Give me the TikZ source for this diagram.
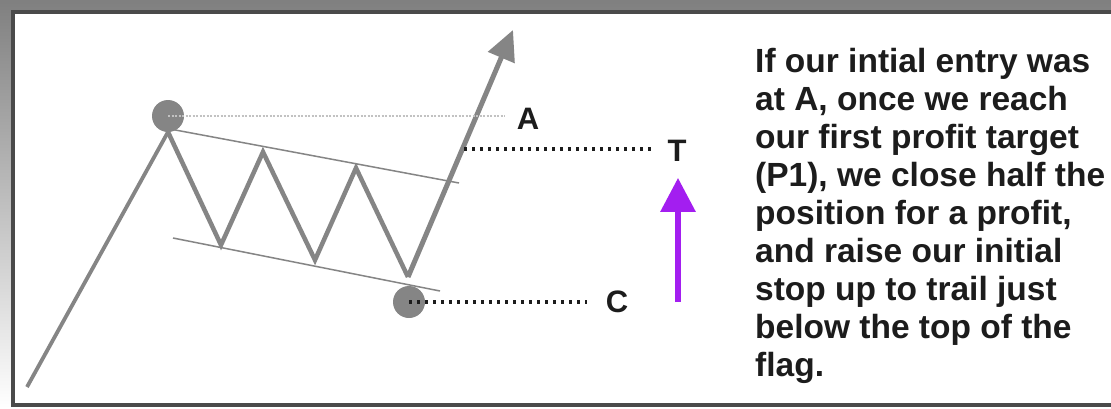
\documentclass[tikz,border=0pt]{standalone}
\usepackage{fontspec}
\setmainfont{Liberation Sans}
\usepackage{tikz}
\usetikzlibrary{positioning,arrows.meta,calc}
\definecolor{framegray}{HTML}{4A4A4A}
\definecolor{shade}{HTML}{F8F8F8}
\definecolor{pricegray}{HTML}{858585}
\definecolor{dotgray}{HTML}{C2C2C2}
\definecolor{inkdark}{HTML}{1C1C1C}
\definecolor{raisepurple}{HTML}{A31EF0}
\tikzset{
    pricepath/.style={
        draw=pricegray, line width=4.5pt, line join=miter
    },
    flagline/.style={
        draw=pricegray, line width=1.5pt
    },
    pivot/.style={
        circle, fill=pricegray, minimum size=32pt, inner sep=0pt
    },
    levellabel/.style={
        font=\fontsize{31}{31}\selectfont\bfseries, text=inkdark, inner sep=0pt
    },
    leveldots/.style={
        draw=inkdark, line width=3.2pt, dash pattern=on 3.2pt off 4.8pt
    },
    entrydots/.style={
        draw=dotgray, line width=2pt, dash pattern=on 2pt off 1.5pt
    },
    notetext/.style={
        font=\fontsize{33.5}{38}\selectfont\bfseries, text=inkdark,
        align=left, inner sep=0pt, anchor=north west
    },
    breakout/.style={-{Triangle[length=30pt,width=28pt]}, draw=pricegray, line width=5pt},
    raisearrow/.style={-{Triangle[length=34pt,width=34pt]}, draw=raisepurple, line width=6pt},
}

\begin{document}
\begin{tikzpicture}[x=1pt, y=-1pt]
    \useasboundingbox (0,0) rectangle (1111,408);
    \fill[shade] (0,0) rectangle (1111,408);
    \draw[framegray, line width=3.5pt, fill=white] (13,12) rectangle (1125,405);

    % price swings
    \coordinate (start) at (27,387);
    \coordinate (p1) at (168,132);
    \coordinate (t1) at (221,245);
    \coordinate (p2) at (263,152);
    \coordinate (t2) at (315,260);
    \coordinate (p3) at (356,168);
    \coordinate (t3) at (408,277);
    \coordinate (tip) at (513,30);
    \coordinate (tlevel) at (464,149);

    % flag borders
    \coordinate (upperL) at (170,129);
    \coordinate (upperR) at (459,183);
    \coordinate (lowerL) at (173,238);
    \coordinate (lowerR) at (440,291);

    \node[pivot] (entry) at (168,116) {};
    \node[pivot] (stop) at (409,302) {};

    \draw[flagline] (upperL) -- (upperR);
    \draw[flagline] (lowerL) -- (lowerR);
    \draw[pricepath, line width=3.8pt] (start) -- (p1);
    \draw[pricepath] (p1) -- (t1) -- (p2) -- (t2) -- (p3) -- (t3);
    \draw[breakout] (t3) -- (tip);

    \node[levellabel] (lblA) at (528,119) {A};
    \node[levellabel] (lblT) at (677,151) {T};
    \node[levellabel] (lblC) at (617,302) {C};

    \draw[entrydots] (entry.center) -- ($(entry.center -| lblA.west)+(-12,0)$);
    \draw[leveldots] (tlevel) -- ($(tlevel -| lblT.west)+(-16,0)$);
    \draw[leveldots] (stop.center) -- ($(stop.center -| lblC.west)+(-19,0)$);

    \coordinate (raisefrom) at (678,302);
    \draw[raisearrow] (raisefrom) -- ($(lblT.south)+(1,16)$);

    \node[notetext] (note) at (755,48) {If our intial entry was\\at A, once we reach\\our first profit target\\(P1), we close half the\\position for a profit,\\and raise our initial\\stop up to trail just\\below the top of the\\flag.};
\end{tikzpicture}
\end{document}
